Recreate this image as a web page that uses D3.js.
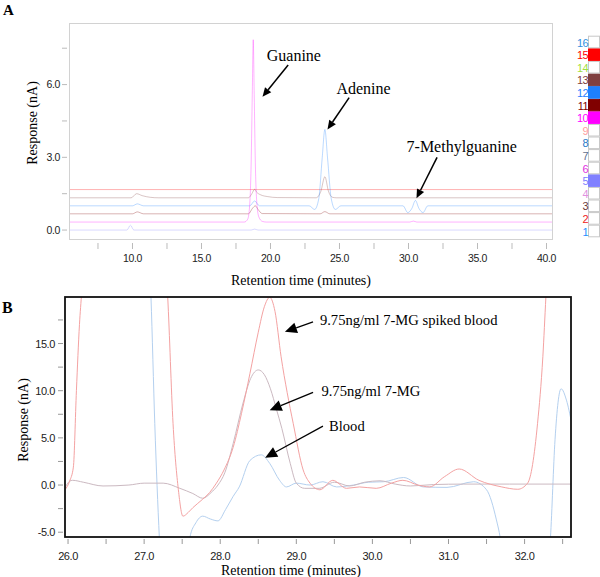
<!DOCTYPE html>
<html><head><meta charset="utf-8">
<script src="https://cdn.jsdelivr.net/npm/d3@7"></script>
<style>body{margin:0;background:#fff}svg{display:block}</style>
</head><body>
<svg id="c" width="600" height="577"></svg>
<script>
// ---------- Panel A data ----------
const aXTicks = [10, 15, 20, 25, 30, 35, 40];
const aYTicks = [0, 3, 6];
const aTraceIds = [15, 13, 12, 11, 10, 5];
const aTrace15 = [[5.4,1.67],[40.47,1.67]];
const aTrace13 = [[5.4,1.33],[9.9,1.33],[10.3,1.5],[10.7,1.42],[11.3,1.35],[11.9,1.33],[18.4,1.33],[18.65,1.5],[18.85,1.68],[19.0,1.56],[19.3,1.45],[19.8,1.38],[20.5,1.34],[23.3,1.33],[23.65,1.6],[23.94,2.2],[24.2,1.6],[24.5,1.35],[24.8,1.33],[40.47,1.33]];
const aTrace12 = [[5.4,1.0],[10.0,1.0],[10.35,1.08],[10.8,1.0],[18.5,1.0],[18.85,1.2],[19.2,1.0],[22.8,1.0],[23.2,0.85],[23.5,1.3],[23.75,3.0],[23.94,4.15],[24.13,3.0],[24.4,1.3],[24.7,0.85],[25.1,1.0],[29.6,1.0],[29.95,0.72],[30.25,0.9],[30.5,1.22],[30.75,0.9],[31.05,0.72],[31.4,1.0],[40.47,1.0]];
const aTrace11 = [[5.4,0.67],[10.0,0.67],[10.35,0.75],[10.8,0.67],[18.4,0.67],[18.7,0.9],[18.9,1.0],[19.1,0.85],[19.4,0.68],[23.6,0.67],[23.94,0.76],[24.3,0.67],[40.47,0.67]];
const aTrace10 = [[5.4,0.33],[18.1,0.33],[18.35,0.45],[18.5,1.1],[18.6,2.8],[18.68,5.6],[18.75,7.85],[18.82,5.6],[18.9,2.8],[19.0,1.2],[19.15,0.55],[19.4,0.36],[19.7,0.33],[30.1,0.33],[30.35,0.37],[30.6,0.33],[40.47,0.33]];
const aTrace5 = [[5.4,0],[9.6,0],[9.85,0.2],[10.1,0],[18.6,0],[18.85,0.04],[19.1,0],[40.47,0]];
const aTraces = [aTrace15, aTrace13, aTrace12, aTrace11, aTrace10, aTrace5];
const aLabels = ["Guanine", "Adenine", "7-Methylguanine"];
const aLabelPos = [[19.73,6.97],[24.78,5.61],[29.86,3.24]];
const aArrowFrom = [[21.28,6.81],[25.70,5.46],[32.07,3.0]];
const aArrowTo = [[19.42,5.5],[24.13,4.15],[30.58,1.31]];

// ---------- Legend ----------
const legendNums = [1,2,3,4,5,6,7,8,9,10,11,12,13,14,15,16];
const legendColors = ["#1e90ff","#ee2222","#6b3a3a","#e090e0","#8080ff","#e030e0","#607090","#2878c8","#ff9c9c","#ff00ff","#800000","#1e80ff","#804040","#a0e040","#ff0000","#3090e0"];
const legendFilled = [5,10,11,12,13,15];

// ---------- Panel B data ----------
const bXTicks = [26, 27, 28, 29, 30, 31, 32];
const bYTicks = [-5, 0, 5, 10, 15];
const bRed = [[25.96,-0.5],[26.02,0.4],[26.07,1.9],[26.11,10],[26.15,17],[26.18,20.5],[26.25,29],[26.4,45],[26.8,60],[27.1,45],[27.2,31],[27.31,19.9],[27.38,6.5],[27.45,-0.5],[27.51,-3.3],[27.58,-2.9],[27.64,-2.4],[27.77,-1.5],[27.86,-0.8],[27.95,0.2],[28.05,1.6],[28.17,4.0],[28.28,7.6],[28.39,11.8],[28.5,16.2],[28.58,18.9],[28.65,19.9],[28.72,18.4],[28.8,13.6],[28.88,9.8],[28.96,6.5],[29.09,1.6],[29.18,0.2],[29.31,-0.5],[29.48,0.5],[29.66,-0.35],[29.83,-0.2],[30.05,-0.35],[30.25,0.2],[30.4,0.5],[30.6,0.0],[30.75,-0.2],[30.95,0.9],[31.14,1.7],[31.4,0.5],[31.7,-0.2],[31.91,-0.45],[32.04,0.2],[32.17,6.5],[32.24,13.6],[32.28,19.9],[32.35,30],[32.62,50]];
const bGray = [[25.96,-0.3],[26.02,0.4],[26.06,0.5],[26.2,0.3],[26.46,-0.1],[26.8,0.0],[27.0,0.2],[27.25,0.2],[27.47,-0.35],[27.64,-0.9],[27.77,-1.4],[27.88,-0.8],[27.97,0.0],[28.06,1.3],[28.17,4.4],[28.3,8.7],[28.4,11.3],[28.5,12.2],[28.58,11.7],[28.66,10.2],[28.74,8.0],[28.81,6.0],[28.92,2.3],[29.0,0.2],[29.11,-0.35],[29.3,-0.35],[29.5,0.3],[29.7,-0.1],[29.9,0.3],[30.1,0.45],[30.3,0.1],[30.5,-0.1],[30.8,0.05],[31.2,0.1],[31.8,0.1],[32.62,0.1]];
const bBlue = [[26.95,45],[27.03,30],[27.09,19.9],[27.14,6.5],[27.2,-5.6],[27.26,-14],[27.5,-14],[27.6,-5.6],[27.68,-4.0],[27.77,-3.3],[27.87,-3.6],[27.97,-3.8],[28.07,-2.6],[28.17,-1.2],[28.25,-0.2],[28.39,2.6],[28.54,3.2],[28.65,2.3],[28.78,0.5],[28.87,-0.2],[29.0,0.2],[29.18,0.0],[29.35,0.35],[29.53,-0.2],[29.75,0.0],[29.95,0.3],[30.15,0.35],[30.41,0.8],[30.67,-0.2],[30.98,-0.25],[31.33,0.35],[31.5,-0.5],[31.63,-3.7],[31.68,-5.6],[31.8,-15],[32.2,-15],[32.34,-5.6],[32.4,4.8],[32.48,10.2],[32.55,9.0],[32.62,6.5]];
const bSeries = [bBlue, bGray, bRed];
const bColors = ["#b4d0ef", "#cbb9c1", "#f4a2a2"];
const bLabels = ["9.75ng/ml 7-MG spiked blood", "9.75ng/ml 7-MG", "Blood"];
const bLabelPos = [[29.31,16.95],[29.33,9.43],[29.43,5.72]];
const bArrowFrom = [[29.22,17.3],[29.22,9.82],[29.35,6.25]];
const bArrowTo = [[28.85,16.24],[28.65,7.94],[28.59,2.89]];

const svg = d3.select("#c");
const serif = "'Liberation Serif','Times New Roman',serif";
const sans = "'Liberation Sans',Arial,sans-serif";

function arrow(g, x1, y1, x2, y2, len, wid, sw) {
  const dx = x2 - x1, dy = y2 - y1, L = Math.hypot(dx, dy);
  const ux = dx / L, uy = dy / L;
  const bx = x2 - ux * len, by = y2 - uy * len;
  g.append("line").attr("x1", x1).attr("y1", y1).attr("x2", bx).attr("y2", by)
    .attr("stroke", "#000").attr("stroke-width", sw);
  g.append("path").attr("d", `M${x2},${y2}L${bx - uy*wid/2},${by + ux*wid/2}L${bx + uy*wid/2},${by - ux*wid/2}Z`).attr("fill", "#000");
}

// ================= Panel A =================
const ax = d3.scaleLinear().domain([5.4, 40.47]).range([69, 553]);
const ay = d3.scaleLinear().domain([-0.41, 8.54]).range([240, 23]);
const gA = svg.append("g");
svg.append("text").attr("x", 3).attr("y", 15).attr("font-family", serif).attr("font-weight", "bold").attr("font-size", 15).text("A");
gA.append("rect").attr("x", 69.5).attr("y", 23.5).attr("width", 483).attr("height", 216).attr("fill", "none").attr("stroke", "#d2d2d2");
const axMinor = d3.range(7.5, 40.1, 2.5);
gA.selectAll(".axt").data(axMinor).enter().append("line")
  .attr("x1", d => ax(d)).attr("x2", d => ax(d)).attr("y1", 243).attr("y2", 249).attr("stroke", "#bbb");
gA.selectAll(".axl").data(aXTicks).enter().append("text")
  .attr("x", d => ax(d)).attr("y", 262).attr("text-anchor", "middle").attr("font-family", sans).attr("font-size", 10.5).attr("letter-spacing", -0.4).attr("fill", "#222")
  .text(d => d.toFixed(1));
const ayMinor = d3.range(0, 7.6, 1.5);
gA.selectAll(".ayt").data(ayMinor).enter().append("line")
  .attr("x1", 62).attr("x2", 67).attr("y1", d => ay(d)).attr("y2", d => ay(d)).attr("stroke", "#bbb");
gA.selectAll(".ayl").data(aYTicks).enter().append("text")
  .attr("x", 60).attr("y", d => ay(d) + 3.5).attr("text-anchor", "end").attr("font-family", sans).attr("font-size", 10.5).attr("letter-spacing", -0.4).attr("fill", "#222")
  .text(d => d.toFixed(1));
svg.append("text").attr("x", 301).attr("y", 285).attr("text-anchor", "middle").attr("font-family", serif).attr("font-size", 14).text("Retention time (minutes)");
svg.append("text").attr("transform", "translate(37,123) rotate(-90)").attr("text-anchor", "middle").attr("font-family", serif).attr("font-size", 14).text("Response (nA)");
svg.append("defs").append("clipPath").attr("id", "clipA").append("rect").attr("x", 70).attr("y", 24).attr("width", 482).attr("height", 215);
const lineA = d3.line().x(d => ax(d[0])).y(d => ay(d[1])).curve(d3.curveMonotoneX);
const gAL = gA.append("g").attr("clip-path", "url(#clipA)");
aTraces.forEach((tr, i) => {
  const id = aTraceIds[i];
  gAL.append("path").attr("d", lineA(tr)).attr("fill", "none")
    .attr("stroke", legendColors[id - 1]).attr("stroke-opacity", 0.3).attr("stroke-width", 1);
});
aLabels.forEach((t, i) => {
  svg.append("text").attr("x", ax(aLabelPos[i][0])).attr("y", ay(aLabelPos[i][1])).attr("font-family", serif).attr("font-size", 16).text(t);
  arrow(svg, ax(aArrowFrom[i][0]), ay(aArrowFrom[i][1]), ax(aArrowTo[i][0]), ay(aArrowTo[i][1]), 9, 8, 1.5);
});

// ---------- Legend ----------
const ly = d3.scaleLinear().domain([1, 16]).range([231, 42]);
const gL = svg.append("g");
legendNums.forEach((n, i) => {
  const filled = legendFilled.includes(n);
  gL.append("rect").attr("x", 588.5).attr("y", ly(n) - 5.8).attr("width", 11).attr("height", 11.6)
    .attr("fill", filled ? legendColors[i] : "#fff").attr("stroke", filled ? legendColors[i] : "#c8c8c8");
  gL.append("text").attr("x", 588).attr("y", ly(n) + 4.5).attr("text-anchor", "end").attr("font-family", sans).attr("font-size", 11).attr("letter-spacing", -0.6)
    .attr("fill", legendColors[i]).text(n);
});

// ================= Panel B =================
const bx = d3.scaleLinear().domain([25.96, 32.61]).range([65, 571]);
const by = d3.scaleLinear().domain([-5.54, 19.9]).range([537.3, 297.3]);
const gB = svg.append("g");
svg.append("text").attr("x", 2).attr("y", 313).attr("font-family", serif).attr("font-weight", "bold").attr("font-size", 16).text("B");
svg.select("defs").append("clipPath").attr("id", "clipB").append("rect").attr("x", 65).attr("y", 297).attr("width", 506).attr("height", 240);
const lineB = d3.line().x(d => bx(d[0])).y(d => by(d[1])).curve(d3.curveMonotoneX);
const gBL = gB.append("g").attr("clip-path", "url(#clipB)");
bSeries.forEach((s, i) => {
  gBL.append("path").attr("d", lineB(s)).attr("fill", "none").attr("stroke", bColors[i]).attr("stroke-width", 1);
});
gB.append("rect").attr("x", 65).attr("y", 297).attr("width", 506).attr("height", 240).attr("fill", "none").attr("stroke", "#111").attr("stroke-width", 1.8);
const bxMinor = d3.range(26, 32.51, 0.5);
gB.selectAll(".bxt").data(bxMinor).enter().append("line")
  .attr("x1", d => bx(d)).attr("x2", d => bx(d)).attr("y1", 539).attr("y2", 544).attr("stroke", "#999");
gB.selectAll(".bxl").data(bXTicks).enter().append("text")
  .attr("x", d => bx(d)).attr("y", 560).attr("text-anchor", "middle").attr("font-family", sans).attr("font-size", 11).attr("letter-spacing", -0.4).attr("fill", "#222")
  .text(d => d.toFixed(1));
const byMinor = d3.range(-5, 17.6, 2.5);
gB.selectAll(".byt").data(byMinor).enter().append("line")
  .attr("x1", 58).attr("x2", 63).attr("y1", d => by(d)).attr("y2", d => by(d)).attr("stroke", "#999");
gB.selectAll(".byl").data(bYTicks).enter().append("text")
  .attr("x", 55).attr("y", d => by(d) + 4).attr("text-anchor", "end").attr("font-family", sans).attr("font-size", 11).attr("letter-spacing", -0.4).attr("fill", "#222")
  .text(d => d.toFixed(1));
svg.append("text").attr("x", 291).attr("y", 575).attr("text-anchor", "middle").attr("font-family", serif).attr("font-size", 14).text("Retention time (minutes)");
svg.append("text").attr("transform", "translate(28,420) rotate(-90)").attr("text-anchor", "middle").attr("font-family", serif).attr("font-size", 14).text("Response (nA)");
bLabels.forEach((t, i) => {
  svg.append("text").attr("x", bx(bLabelPos[i][0])).attr("y", by(bLabelPos[i][1])).attr("font-family", serif).attr("font-size", 14.6).text(t);
  arrow(svg, bx(bArrowFrom[i][0]), by(bArrowFrom[i][1]), bx(bArrowTo[i][0]), by(bArrowTo[i][1]), 12, 11, 1.3);
});
</script>
</body></html>
